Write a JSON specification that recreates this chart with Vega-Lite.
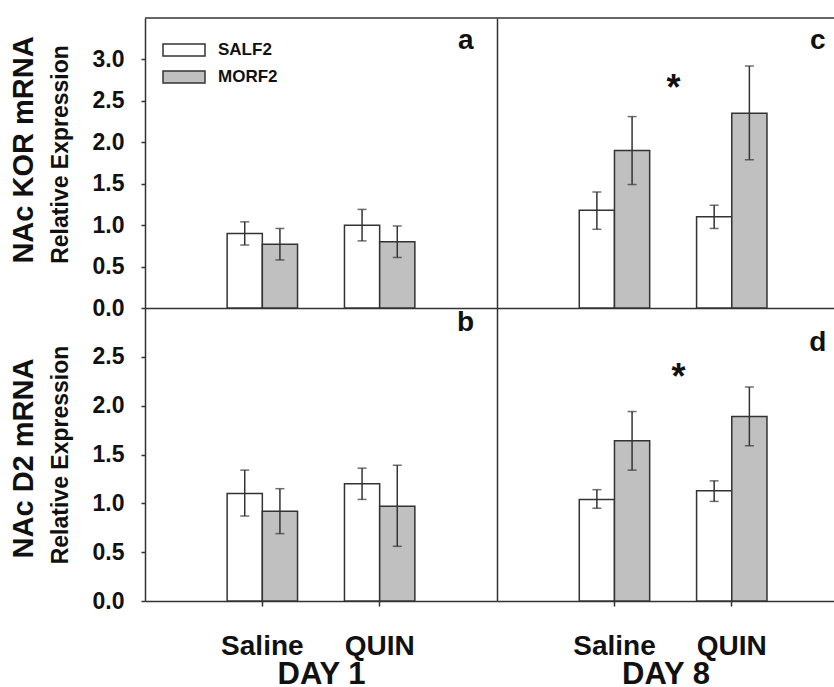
{
  "$schema": "https://vega.github.io/schema/vega-lite/v6.json",
  "padding": {"left": 10, "top": 17, "right": 0, "bottom": 0},
  "config": {
    "view": {"stroke": null},
    "font": "Liberation Sans",
    "axis": {"grid": false, "minExtent": 0, "domainColor": "#333", "domainWidth": 1.5, "tickColor": "#333", "tickWidth": 1.5, "labelColor": "#111", "titleColor": "#111", "labelFont": "Liberation Sans", "titleFont": "Liberation Sans", "labelFontWeight": "bold", "titleFontWeight": "bold"},
    "title": {"font": "Liberation Sans", "fontWeight": "bold", "color": "#111"},
    "legend": {"orient": "none", "legendX": 26, "legendY": 19, "title": null, "symbolType": "M-1.75,-0.5H1.75V0.5H-1.75Z", "symbolSize": 576, "symbolStrokeColor": "#333", "symbolStrokeWidth": 1.5, "labelFont": "Liberation Sans", "labelFontWeight": "bold", "labelFontSize": 17, "labelColor": "#111", "labelOffset": 21, "rowPadding": 5}
  },
  "datasets": {
    "bars": [
      {"panel": "a", "treatment": "Saline", "group": "SALF2", "mean": 0.90, "lo": 0.76, "hi": 1.04},
      {"panel": "a", "treatment": "Saline", "group": "MORF2", "mean": 0.77, "lo": 0.58, "hi": 0.96},
      {"panel": "a", "treatment": "QUIN", "group": "SALF2", "mean": 1.00, "lo": 0.81, "hi": 1.19},
      {"panel": "a", "treatment": "QUIN", "group": "MORF2", "mean": 0.80, "lo": 0.61, "hi": 0.99},
      {"panel": "c", "treatment": "Saline", "group": "SALF2", "mean": 1.18, "lo": 0.95, "hi": 1.40},
      {"panel": "c", "treatment": "Saline", "group": "MORF2", "mean": 1.90, "lo": 1.49, "hi": 2.31},
      {"panel": "c", "treatment": "QUIN", "group": "SALF2", "mean": 1.10, "lo": 0.96, "hi": 1.24},
      {"panel": "c", "treatment": "QUIN", "group": "MORF2", "mean": 2.35, "lo": 1.79, "hi": 2.92},
      {"panel": "b", "treatment": "Saline", "group": "SALF2", "mean": 1.10, "lo": 0.87, "hi": 1.34},
      {"panel": "b", "treatment": "Saline", "group": "MORF2", "mean": 0.92, "lo": 0.69, "hi": 1.15},
      {"panel": "b", "treatment": "QUIN", "group": "SALF2", "mean": 1.20, "lo": 1.04, "hi": 1.36},
      {"panel": "b", "treatment": "QUIN", "group": "MORF2", "mean": 0.97, "lo": 0.56, "hi": 1.39},
      {"panel": "d", "treatment": "Saline", "group": "SALF2", "mean": 1.04, "lo": 0.95, "hi": 1.14},
      {"panel": "d", "treatment": "Saline", "group": "MORF2", "mean": 1.64, "lo": 1.34, "hi": 1.94},
      {"panel": "d", "treatment": "QUIN", "group": "SALF2", "mean": 1.13, "lo": 1.02, "hi": 1.23},
      {"panel": "d", "treatment": "QUIN", "group": "MORF2", "mean": 1.89, "lo": 1.59, "hi": 2.19}
    ]
  },
  "columns": 2,
  "spacing": 0,
  "bounds": "flush",
  "resolve": {"scale": {"x": "independent", "y": "independent"}},
  "concat": [
    {
      "title": {"text": "NAc KOR mRNA", "orient": "left", "anchor": "middle", "frame": "group", "fontSize": 29, "offset": 10, "dx": 13},
      "width": 352, "height": 290,
      "layer": [
        {"data": {"name": "bars"}, "transform": [{"filter": "datum.panel === 'a'"}],
         "mark": {"type": "bar", "stroke": "#333", "strokeWidth": 1.5},
         "encoding": {
           "x": {"field": "treatment", "type": "nominal", "sort": ["Saline", "QUIN"], "scale": {"paddingInner": 0.4, "paddingOuter": 0.7}, "axis": {"labels": false, "ticks": false, "title": null}},
           "xOffset": {"field": "group", "type": "nominal", "sort": ["SALF2", "MORF2"], "scale": {"paddingInner": 0, "paddingOuter": 0}},
           "y": {"field": "mean", "type": "quantitative", "scale": {"domain": [0, 3.5], "nice": false}, "axis": {"values": [0, 0.5, 1, 1.5, 2, 2.5, 3], "format": ".1f", "labelFontSize": 23, "tickSize": 4, "labelPadding": 17, "title": "Relative Expression", "titleFontSize": 23, "titlePadding": 20, "titleY": 136}},
           "fill": {"field": "group", "type": "nominal", "scale": {"domain": ["SALF2", "MORF2"], "range": ["#ffffff", "#c0c0c0"]}, "legend": {}}
         }},
        {"data": {"name": "bars"}, "transform": [{"filter": "datum.panel === 'a'"}],
         "mark": {"type": "rule", "color": "#333", "strokeWidth": 1.5},
         "encoding": {
           "x": {"field": "treatment", "type": "nominal", "sort": ["Saline", "QUIN"]},
           "xOffset": {"field": "group", "type": "nominal", "sort": ["SALF2", "MORF2"]},
           "y": {"field": "lo", "type": "quantitative"}, "y2": {"field": "hi"}
         }},
        {"data": {"name": "bars"}, "transform": [{"filter": "datum.panel === 'a'"}],
         "mark": {"type": "tick", "color": "#333", "thickness": 1.5, "size": 9, "orient": "horizontal"},
         "encoding": {
           "x": {"field": "treatment", "type": "nominal", "sort": ["Saline", "QUIN"]},
           "xOffset": {"field": "group", "type": "nominal", "sort": ["SALF2", "MORF2"]},
           "y": {"field": "lo", "type": "quantitative"}
         }},
        {"data": {"name": "bars"}, "transform": [{"filter": "datum.panel === 'a'"}],
         "mark": {"type": "tick", "color": "#333", "thickness": 1.5, "size": 9, "orient": "horizontal"},
         "encoding": {
           "x": {"field": "treatment", "type": "nominal", "sort": ["Saline", "QUIN"]},
           "xOffset": {"field": "group", "type": "nominal", "sort": ["SALF2", "MORF2"]},
           "y": {"field": "hi", "type": "quantitative"}
         }},
        {"data": {"values": [{}]}, "mark": {"type": "rule", "color": "#333", "strokeWidth": 1.5}, "encoding": {"y": {"datum": 3.5}}},
        {"data": {"values": [{}]}, "mark": {"type": "text", "text": "a", "fontSize": 28, "fontWeight": "bold", "color": "#111", "dx": 86, "baseline": "middle"},
         "encoding": {"x": {"datum": "QUIN", "type": "nominal"}, "y": {"datum": 3.22}}}
      ]
    },
    {
      "width": 337, "height": 290,
      "layer": [
        {"data": {"name": "bars"}, "transform": [{"filter": "datum.panel === 'c'"}],
         "mark": {"type": "bar", "stroke": "#333", "strokeWidth": 1.5},
         "encoding": {
           "x": {"field": "treatment", "type": "nominal", "sort": ["Saline", "QUIN"], "scale": {"paddingInner": 0.4, "paddingOuter": 0.6365, "align": 0.551}, "axis": {"labels": false, "ticks": false, "title": null}},
           "xOffset": {"field": "group", "type": "nominal", "sort": ["SALF2", "MORF2"], "scale": {"paddingInner": 0, "paddingOuter": 0}},
           "y": {"field": "mean", "type": "quantitative", "scale": {"domain": [0, 3.5], "nice": false}, "axis": {"labels": false, "ticks": false, "title": null}},
           "fill": {"field": "group", "type": "nominal", "scale": {"domain": ["SALF2", "MORF2"], "range": ["#ffffff", "#c0c0c0"]}, "legend": {}}
         }},
        {"data": {"name": "bars"}, "transform": [{"filter": "datum.panel === 'c'"}],
         "mark": {"type": "rule", "color": "#333", "strokeWidth": 1.5},
         "encoding": {
           "x": {"field": "treatment", "type": "nominal", "sort": ["Saline", "QUIN"]},
           "xOffset": {"field": "group", "type": "nominal", "sort": ["SALF2", "MORF2"]},
           "y": {"field": "lo", "type": "quantitative"}, "y2": {"field": "hi"}
         }},
        {"data": {"name": "bars"}, "transform": [{"filter": "datum.panel === 'c'"}],
         "mark": {"type": "tick", "color": "#333", "thickness": 1.5, "size": 9, "orient": "horizontal"},
         "encoding": {
           "x": {"field": "treatment", "type": "nominal", "sort": ["Saline", "QUIN"]},
           "xOffset": {"field": "group", "type": "nominal", "sort": ["SALF2", "MORF2"]},
           "y": {"field": "lo", "type": "quantitative"}
         }},
        {"data": {"name": "bars"}, "transform": [{"filter": "datum.panel === 'c'"}],
         "mark": {"type": "tick", "color": "#333", "thickness": 1.5, "size": 9, "orient": "horizontal"},
         "encoding": {
           "x": {"field": "treatment", "type": "nominal", "sort": ["Saline", "QUIN"]},
           "xOffset": {"field": "group", "type": "nominal", "sort": ["SALF2", "MORF2"]},
           "y": {"field": "hi", "type": "quantitative"}
         }},
        {"data": {"values": [{}]}, "mark": {"type": "rule", "color": "#333", "strokeWidth": 1.5}, "encoding": {"y": {"datum": 3.5}}},
        {"data": {"values": [{}]}, "mark": {"type": "text", "text": "c", "fontSize": 28, "fontWeight": "bold", "color": "#111", "dx": 86, "baseline": "middle"},
         "encoding": {"x": {"datum": "QUIN", "type": "nominal"}, "y": {"datum": 3.22}}},
        {"data": {"values": [{}]}, "mark": {"type": "text", "text": "*", "fontSize": 36, "fontWeight": "bold", "color": "#111", "dx": 59, "baseline": "middle"},
         "encoding": {"x": {"datum": "Saline", "type": "nominal"}, "y": {"datum": 2.64}}}
      ]
    },
    {
      "title": {"text": "NAc D2 mRNA", "orient": "left", "anchor": "middle", "frame": "group", "fontSize": 29, "offset": 10, "dx": -4},
      "width": 352, "height": 293,
      "layer": [
        {"data": {"name": "bars"}, "transform": [{"filter": "datum.panel === 'b'"}],
         "mark": {"type": "bar", "stroke": "#333", "strokeWidth": 1.5},
         "encoding": {
           "x": {"field": "treatment", "type": "nominal", "sort": ["Saline", "QUIN"], "scale": {"paddingInner": 0.4, "paddingOuter": 0.7}, "axis": {"labelFontSize": 28, "labelAngle": 0, "tickSize": 5, "labelPadding": 26, "title": "DAY 1", "titleFontSize": 31, "titlePadding": -1}},
           "xOffset": {"field": "group", "type": "nominal", "sort": ["SALF2", "MORF2"], "scale": {"paddingInner": 0, "paddingOuter": 0}},
           "y": {"field": "mean", "type": "quantitative", "scale": {"domain": [0, 3], "nice": false}, "axis": {"values": [0, 0.5, 1, 1.5, 2, 2.5], "format": ".1f", "labelFontSize": 23, "tickSize": 4, "labelPadding": 17, "title": "Relative Expression", "titleFontSize": 23, "titlePadding": 20}},
           "fill": {"field": "group", "type": "nominal", "scale": {"domain": ["SALF2", "MORF2"], "range": ["#ffffff", "#c0c0c0"]}, "legend": {}}
         }},
        {"data": {"name": "bars"}, "transform": [{"filter": "datum.panel === 'b'"}],
         "mark": {"type": "rule", "color": "#333", "strokeWidth": 1.5},
         "encoding": {
           "x": {"field": "treatment", "type": "nominal", "sort": ["Saline", "QUIN"]},
           "xOffset": {"field": "group", "type": "nominal", "sort": ["SALF2", "MORF2"]},
           "y": {"field": "lo", "type": "quantitative"}, "y2": {"field": "hi"}
         }},
        {"data": {"name": "bars"}, "transform": [{"filter": "datum.panel === 'b'"}],
         "mark": {"type": "tick", "color": "#333", "thickness": 1.5, "size": 9, "orient": "horizontal"},
         "encoding": {
           "x": {"field": "treatment", "type": "nominal", "sort": ["Saline", "QUIN"]},
           "xOffset": {"field": "group", "type": "nominal", "sort": ["SALF2", "MORF2"]},
           "y": {"field": "lo", "type": "quantitative"}
         }},
        {"data": {"name": "bars"}, "transform": [{"filter": "datum.panel === 'b'"}],
         "mark": {"type": "tick", "color": "#333", "thickness": 1.5, "size": 9, "orient": "horizontal"},
         "encoding": {
           "x": {"field": "treatment", "type": "nominal", "sort": ["Saline", "QUIN"]},
           "xOffset": {"field": "group", "type": "nominal", "sort": ["SALF2", "MORF2"]},
           "y": {"field": "hi", "type": "quantitative"}
         }},
        {"data": {"values": [{}]}, "mark": {"type": "text", "text": "b", "fontSize": 28, "fontWeight": "bold", "color": "#111", "dx": 86, "baseline": "middle"},
         "encoding": {"x": {"datum": "QUIN", "type": "nominal"}, "y": {"datum": 2.85}}}
      ]
    },
    {
      "width": 337, "height": 293,
      "layer": [
        {"data": {"name": "bars"}, "transform": [{"filter": "datum.panel === 'd'"}],
         "mark": {"type": "bar", "stroke": "#333", "strokeWidth": 1.5},
         "encoding": {
           "x": {"field": "treatment", "type": "nominal", "sort": ["Saline", "QUIN"], "scale": {"paddingInner": 0.4, "paddingOuter": 0.6365, "align": 0.551}, "axis": {"labelFontSize": 28, "labelAngle": 0, "tickSize": 5, "labelPadding": 26, "title": "DAY 8", "titleFontSize": 31, "titlePadding": -1}},
           "xOffset": {"field": "group", "type": "nominal", "sort": ["SALF2", "MORF2"], "scale": {"paddingInner": 0, "paddingOuter": 0}},
           "y": {"field": "mean", "type": "quantitative", "scale": {"domain": [0, 3], "nice": false}, "axis": {"labels": false, "ticks": false, "title": null}},
           "fill": {"field": "group", "type": "nominal", "scale": {"domain": ["SALF2", "MORF2"], "range": ["#ffffff", "#c0c0c0"]}, "legend": {}}
         }},
        {"data": {"name": "bars"}, "transform": [{"filter": "datum.panel === 'd'"}],
         "mark": {"type": "rule", "color": "#333", "strokeWidth": 1.5},
         "encoding": {
           "x": {"field": "treatment", "type": "nominal", "sort": ["Saline", "QUIN"]},
           "xOffset": {"field": "group", "type": "nominal", "sort": ["SALF2", "MORF2"]},
           "y": {"field": "lo", "type": "quantitative"}, "y2": {"field": "hi"}
         }},
        {"data": {"name": "bars"}, "transform": [{"filter": "datum.panel === 'd'"}],
         "mark": {"type": "tick", "color": "#333", "thickness": 1.5, "size": 9, "orient": "horizontal"},
         "encoding": {
           "x": {"field": "treatment", "type": "nominal", "sort": ["Saline", "QUIN"]},
           "xOffset": {"field": "group", "type": "nominal", "sort": ["SALF2", "MORF2"]},
           "y": {"field": "lo", "type": "quantitative"}
         }},
        {"data": {"name": "bars"}, "transform": [{"filter": "datum.panel === 'd'"}],
         "mark": {"type": "tick", "color": "#333", "thickness": 1.5, "size": 9, "orient": "horizontal"},
         "encoding": {
           "x": {"field": "treatment", "type": "nominal", "sort": ["Saline", "QUIN"]},
           "xOffset": {"field": "group", "type": "nominal", "sort": ["SALF2", "MORF2"]},
           "y": {"field": "hi", "type": "quantitative"}
         }},
        {"data": {"values": [{}]}, "mark": {"type": "text", "text": "d", "fontSize": 28, "fontWeight": "bold", "color": "#111", "dx": 86, "baseline": "middle"},
         "encoding": {"x": {"datum": "QUIN", "type": "nominal"}, "y": {"datum": 2.64}}},
        {"data": {"values": [{}]}, "mark": {"type": "text", "text": "*", "fontSize": 36, "fontWeight": "bold", "color": "#111", "dx": 64, "baseline": "middle"},
         "encoding": {"x": {"datum": "Saline", "type": "nominal"}, "y": {"datum": 2.28}}}
      ]
    }
  ]
}
